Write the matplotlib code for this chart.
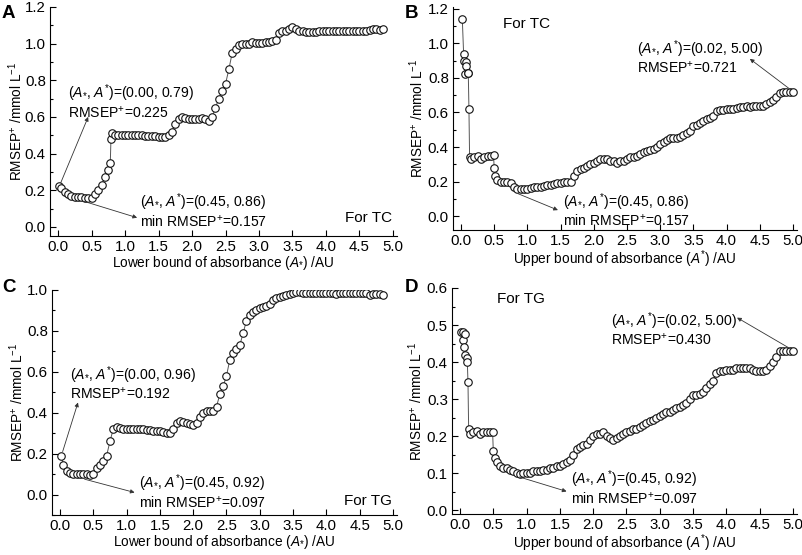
import matplotlib
matplotlib.use('Agg')
import matplotlib.pyplot as plt
from matplotlib.ticker import MultipleLocator

plt.rcParams['font.family'] = ['Liberation Sans', 'DejaVu Sans']
plt.rcParams['mathtext.fontset'] = 'custom'
plt.rcParams['mathtext.rm'] = 'Liberation Sans'
plt.rcParams['mathtext.it'] = 'Liberation Sans:italic'
plt.rcParams['mathtext.bf'] = 'Liberation Sans:bold'

#%% Datos
# A: TC, limite inferior
x_a = [0.02, 0.05, 0.10, 0.15, 0.20, 0.25, 0.30, 0.35, 0.40, 0.45, 0.50, 0.55, 0.60, 0.65,
       0.70, 0.75, 0.78, 0.79, 0.80, 0.85, 0.90, 0.95, 1.00, 1.05, 1.10, 1.15, 1.20, 1.25,
       1.30, 1.35, 1.40, 1.45, 1.50, 1.55, 1.60, 1.65, 1.70, 1.75, 1.80, 1.85, 1.90, 1.95,
       2.00, 2.05, 2.10, 2.15, 2.20, 2.25, 2.30, 2.35, 2.40, 2.45, 2.50, 2.55, 2.60, 2.65,
       2.70, 2.75, 2.80, 2.85, 2.90, 2.95, 3.00, 3.05, 3.10, 3.15, 3.20, 3.25, 3.30, 3.35,
       3.40, 3.45, 3.50, 3.55, 3.60, 3.65, 3.70, 3.75, 3.80, 3.85, 3.90, 3.95, 4.00, 4.05,
       4.10, 4.15, 4.20, 4.25, 4.30, 4.35, 4.40, 4.45, 4.50, 4.55, 4.60, 4.65, 4.70, 4.75,
       4.80, 4.85]
y_a = [0.225, 0.21, 0.19, 0.18, 0.17, 0.165, 0.165, 0.165, 0.16, 0.157, 0.16, 0.18, 0.20, 0.23,
       0.27, 0.31, 0.35, 0.48, 0.51, 0.50, 0.50, 0.50, 0.50, 0.50, 0.50, 0.50, 0.50, 0.50,
       0.495, 0.495, 0.495, 0.495, 0.49, 0.49, 0.49, 0.50, 0.52, 0.56, 0.59, 0.60, 0.595, 0.59,
       0.59, 0.59, 0.59, 0.595, 0.59, 0.58, 0.60, 0.65, 0.70, 0.74, 0.78, 0.86, 0.95, 0.97,
       0.99, 1.00, 1.00, 1.00, 1.01, 1.005, 1.005, 1.005, 1.01, 1.01, 1.015, 1.02, 1.06, 1.07,
       1.07, 1.08, 1.09, 1.08, 1.07, 1.07, 1.065, 1.065, 1.065, 1.065, 1.07, 1.07, 1.07, 1.07,
       1.07, 1.07, 1.07, 1.07, 1.07, 1.07, 1.07, 1.07, 1.07, 1.07, 1.07, 1.075, 1.08, 1.08,
       1.075, 1.08]

# B: TC, limite superior
x_b = [0.02, 0.04, 0.05, 0.06, 0.07, 0.08, 0.10, 0.11, 0.12, 0.13, 0.15, 0.20, 0.25, 0.30,
       0.35, 0.40, 0.45, 0.49, 0.50, 0.51, 0.55, 0.60, 0.65, 0.70, 0.75, 0.80, 0.85, 0.90,
       0.95, 1.00, 1.05, 1.10, 1.15, 1.20, 1.25, 1.30, 1.35, 1.40, 1.45, 1.50, 1.55, 1.60,
       1.65, 1.70, 1.75, 1.80, 1.85, 1.90, 1.95, 2.00, 2.05, 2.10, 2.15, 2.20, 2.25, 2.30,
       2.35, 2.40, 2.45, 2.50, 2.55, 2.60, 2.65, 2.70, 2.75, 2.80, 2.85, 2.90, 2.95, 3.00,
       3.05, 3.10, 3.15, 3.20, 3.25, 3.30, 3.35, 3.40, 3.45, 3.50, 3.55, 3.60, 3.65, 3.70,
       3.75, 3.80, 3.85, 3.90, 3.95, 4.00, 4.05, 4.10, 4.15, 4.20, 4.25, 4.30, 4.35, 4.40,
       4.45, 4.50, 4.55, 4.60, 4.65, 4.70, 4.75, 4.80, 4.85, 4.90, 4.95, 5.00]
y_b = [1.14, 0.94, 0.90, 0.82, 0.89, 0.87, 0.83, 0.83, 0.62, 0.34, 0.33, 0.34, 0.35, 0.33,
       0.34, 0.35, 0.35, 0.355, 0.28, 0.23, 0.21, 0.20, 0.20, 0.20, 0.19, 0.17, 0.157, 0.16,
       0.16, 0.16, 0.165, 0.17, 0.17, 0.17, 0.175, 0.18, 0.18, 0.185, 0.19, 0.19, 0.195, 0.20,
       0.20, 0.23, 0.26, 0.27, 0.28, 0.29, 0.30, 0.31, 0.32, 0.33, 0.33, 0.33, 0.32, 0.32,
       0.31, 0.32, 0.32, 0.33, 0.34, 0.345, 0.35, 0.36, 0.37, 0.375, 0.38, 0.39, 0.40, 0.42,
       0.43, 0.44, 0.45, 0.45, 0.455, 0.46, 0.47, 0.48, 0.49, 0.52, 0.53, 0.54, 0.55, 0.56,
       0.57, 0.58, 0.61, 0.615, 0.615, 0.62, 0.62, 0.62, 0.625, 0.63, 0.63, 0.635, 0.63, 0.635,
       0.635, 0.64, 0.64, 0.65, 0.66, 0.67, 0.69, 0.71, 0.72, 0.72, 0.72, 0.721]

# C: TG, limite inferior
x_c = [0.02, 0.05, 0.10, 0.15, 0.20, 0.25, 0.30, 0.35, 0.40, 0.45, 0.50, 0.55, 0.60, 0.65,
       0.70, 0.75, 0.80, 0.85, 0.90, 0.95, 1.00, 1.05, 1.10, 1.15, 1.20, 1.25, 1.30, 1.35,
       1.40, 1.45, 1.50, 1.55, 1.60, 1.65, 1.70, 1.75, 1.80, 1.85, 1.90, 1.95, 2.00, 2.05,
       2.10, 2.15, 2.20, 2.25, 2.30, 2.35, 2.40, 2.45, 2.50, 2.55, 2.60, 2.65, 2.70, 2.75,
       2.80, 2.85, 2.90, 2.95, 3.00, 3.05, 3.10, 3.15, 3.20, 3.25, 3.30, 3.35, 3.40, 3.45,
       3.50, 3.55, 3.60, 3.65, 3.70, 3.75, 3.80, 3.85, 3.90, 3.95, 4.00, 4.05, 4.10, 4.15,
       4.20, 4.25, 4.30, 4.35, 4.40, 4.45, 4.50, 4.55, 4.60, 4.65, 4.70, 4.75, 4.80, 4.85]
y_c = [0.19, 0.145, 0.115, 0.105, 0.10, 0.10, 0.10, 0.10, 0.10, 0.097, 0.10, 0.13, 0.145, 0.165,
       0.19, 0.26, 0.32, 0.33, 0.325, 0.32, 0.32, 0.32, 0.32, 0.32, 0.32, 0.32, 0.315, 0.315,
       0.31, 0.31, 0.31, 0.305, 0.30, 0.30, 0.32, 0.35, 0.36, 0.355, 0.35, 0.345, 0.34, 0.35,
       0.38, 0.40, 0.41, 0.41, 0.41, 0.43, 0.49, 0.53, 0.58, 0.66, 0.69, 0.71, 0.73, 0.79,
       0.85, 0.88, 0.89, 0.90, 0.91, 0.915, 0.92, 0.93, 0.95, 0.96, 0.965, 0.97, 0.975, 0.98,
       0.985, 0.99, 0.99, 0.985, 0.985, 0.985, 0.985, 0.985, 0.985, 0.985, 0.985, 0.985, 0.985, 0.98,
       0.985, 0.985, 0.985, 0.985, 0.985, 0.985, 0.985, 0.985, 0.985, 0.975, 0.98, 0.98, 0.98, 0.975]

# D: TG, limite superior
x_d = [0.02, 0.04, 0.05, 0.06, 0.07, 0.08, 0.10, 0.11, 0.12, 0.13, 0.15, 0.20, 0.25, 0.30,
       0.35, 0.40, 0.45, 0.49, 0.50, 0.52, 0.55, 0.60, 0.65, 0.70, 0.75, 0.80, 0.85, 0.90,
       0.95, 1.00, 1.05, 1.10, 1.15, 1.20, 1.25, 1.30, 1.35, 1.40, 1.45, 1.50, 1.55, 1.60,
       1.65, 1.70, 1.75, 1.80, 1.85, 1.90, 1.95, 2.00, 2.05, 2.10, 2.15, 2.20, 2.25, 2.30,
       2.35, 2.40, 2.45, 2.50, 2.55, 2.60, 2.65, 2.70, 2.75, 2.80, 2.85, 2.90, 2.95, 3.00,
       3.05, 3.10, 3.15, 3.20, 3.25, 3.30, 3.35, 3.40, 3.45, 3.50, 3.55, 3.60, 3.65, 3.70,
       3.75, 3.80, 3.85, 3.90, 3.95, 4.00, 4.05, 4.10, 4.15, 4.20, 4.25, 4.30, 4.35, 4.40,
       4.45, 4.50, 4.55, 4.60, 4.65, 4.70, 4.75, 4.80, 4.85, 4.90, 4.95, 5.00]
y_d = [0.48, 0.48, 0.46, 0.44, 0.475, 0.42, 0.41, 0.40, 0.345, 0.22, 0.205, 0.21, 0.215, 0.205,
       0.21, 0.21, 0.21, 0.21, 0.16, 0.14, 0.13, 0.12, 0.115, 0.115, 0.11, 0.105, 0.10, 0.097,
       0.10, 0.10, 0.10, 0.105, 0.105, 0.105, 0.11, 0.11, 0.115, 0.115, 0.12, 0.12, 0.125, 0.13,
       0.135, 0.15, 0.165, 0.17, 0.175, 0.18, 0.19, 0.20, 0.205, 0.205, 0.21, 0.20, 0.195, 0.19,
       0.195, 0.20, 0.205, 0.21, 0.215, 0.22, 0.22, 0.225, 0.23, 0.235, 0.24, 0.245, 0.25, 0.255,
       0.26, 0.265, 0.265, 0.27, 0.275, 0.28, 0.285, 0.29, 0.30, 0.31, 0.31, 0.315, 0.32, 0.33,
       0.34, 0.35, 0.37, 0.375, 0.375, 0.38, 0.38, 0.38, 0.385, 0.385, 0.385, 0.385, 0.385, 0.38,
       0.375, 0.375, 0.375, 0.38, 0.39, 0.40, 0.415, 0.43, 0.43, 0.43, 0.43, 0.43]

par = r'($\it{A}_{*}$, $\it{A}^{*}$)'
ylab = r'RMSEP$^{+}$ /mmol L$^{-1}$'
xl_lo = r'Lower bound of absorbance ($\it{A}_{*}$) /AU'
xl_up = r'Upper bound of absorbance ($\it{A}^{*}$) /AU'

#%% Figura
fig = plt.figure(figsize=(8.03, 5.55), dpi=100)
W, H = 803.0, 555.0
def caja(l, t, r, b):
    return [l / W, 1 - b / H, (r - l) / W, (b - t) / H]

ax_a = fig.add_axes(caja(50, 7, 397, 236))
ax_b = fig.add_axes(caja(453, 7, 797, 230))
ax_c = fig.add_axes(caja(52, 290, 397, 515))
ax_d = fig.add_axes(caja(452, 288, 797, 514))

def estilo(ax, ylim, ymaj, xlabel, ylab_x):
    ax.set_xlim(-0.12, 5.06)
    ax.set_ylim(*ylim)
    ax.spines['top'].set_visible(False)
    ax.spines['right'].set_visible(False)
    ax.xaxis.set_major_locator(MultipleLocator(0.5))
    ax.yaxis.set_major_locator(MultipleLocator(ymaj))
    ax.yaxis.set_minor_locator(MultipleLocator(ymaj / 2))
    ax.tick_params(which='both', direction='in', labelsize=10.8, width=0.8, pad=3)
    ax.tick_params(which='major', length=4)
    ax.tick_params(which='minor', length=2)
    ax.set_xlabel(xlabel, fontsize=9.8, labelpad=0)
    ax.set_ylabel(ylab, fontsize=9.8)
    ax.yaxis.set_label_coords(ylab_x, 0.5)
    ax.xaxis.set_major_formatter(plt.FormatStrFormatter('%.1f'))
    ax.yaxis.set_major_formatter(plt.FormatStrFormatter('%.1f'))

def curva(ax, x, y):
    ax.plot(x, y, '-', color='#555555', lw=0.7, zorder=1)
    ax.plot(x, y, 'o', ms=5.4, mfc='white', mec='#111111', mew=0.8, zorder=2)

def flecha(ax, desde, hasta):
    ax.annotate('', xy=hasta, xytext=desde,
                arrowprops=dict(arrowstyle='-|>', color='#333333', lw=0.6,
                                mutation_scale=6, shrinkA=0, shrinkB=0))

def nota(ax, x, y, s, **kw):
    ax.text(x, y, s, fontsize=10.1, va='center', linespacing=1.0, **kw)

# A
curva(ax_a, x_a, y_a)
estilo(ax_a, (-0.05, 1.2), 0.2, xl_lo, -0.072)
nota(ax_a, 0.15, 0.685, par + '=(0.00, 0.79)\n' + r'RMSEP$^{+}$=0.225')
flecha(ax_a, (0.04, 0.24), (0.45, 0.60))
nota(ax_a, 1.23, 0.09, par + '=(0.45, 0.86)\n' + r'min RMSEP$^{+}$=0.157')
flecha(ax_a, (0.38, 0.14), (1.18, 0.05))
ax_a.text(4.98, 0.05, 'For TC', fontsize=11, va='center', ha='right')

# B
curva(ax_b, x_b, y_b)
estilo(ax_b, (-0.08, 1.21), 0.2, xl_up, -0.078)
nota(ax_b, 2.65, 0.92, par + '=(0.02, 5.00)\n' + r'RMSEP$^{+}$=0.721')
flecha(ax_b, (4.97, 0.73), (4.35, 0.91))
nota(ax_b, 1.54, 0.035, par + '=(0.45, 0.86)\n' + r'min RMSEP$^{+}$=0.157')
flecha(ax_b, (0.86, 0.13), (1.46, 0.035))
ax_b.text(0.64, 1.11, 'For TC', fontsize=11, va='center')

# C
curva(ax_c, x_c, y_c)
estilo(ax_c, (-0.1, 1.0), 0.2, xl_lo, -0.074)
nota(ax_c, 0.15, 0.545, par + '=(0.00, 0.96)\n' + r'RMSEP$^{+}$=0.192')
flecha(ax_c, (0.04, 0.21), (0.27, 0.45))
nota(ax_c, 1.18, 0.015, par + '=(0.45, 0.92)\n' + r'min RMSEP$^{+}$=0.097')
flecha(ax_c, (0.37, 0.075), (1.12, 0.01))
ax_c.text(4.98, -0.03, 'For TG', fontsize=11, va='center', ha='right')

# D
curva(ax_d, x_d, y_d)
estilo(ax_d, (-0.01, 0.6), 0.1, xl_up, -0.078)
nota(ax_d, 2.27, 0.49, par + '=(0.02, 5.00)\n' + r'RMSEP$^{+}$=0.430')
flecha(ax_d, (4.97, 0.435), (4.16, 0.52))
nota(ax_d, 1.67, 0.062, par + '=(0.45, 0.92)\n' + r'min RMSEP$^{+}$=0.097')
flecha(ax_d, (0.89, 0.09), (1.6, 0.051))
ax_d.text(0.56, 0.57, 'For TG', fontsize=11, va='center')

# Letras de panel
for letra, px, py in [('A', 2, 14), ('B', 405, 14), ('C', 2, 288), ('D', 405, 288)]:
    fig.text(px / W, 1 - py / H, letra, fontsize=13.5, fontweight='bold', va='center')

fig.savefig('out.png', dpi=100)
